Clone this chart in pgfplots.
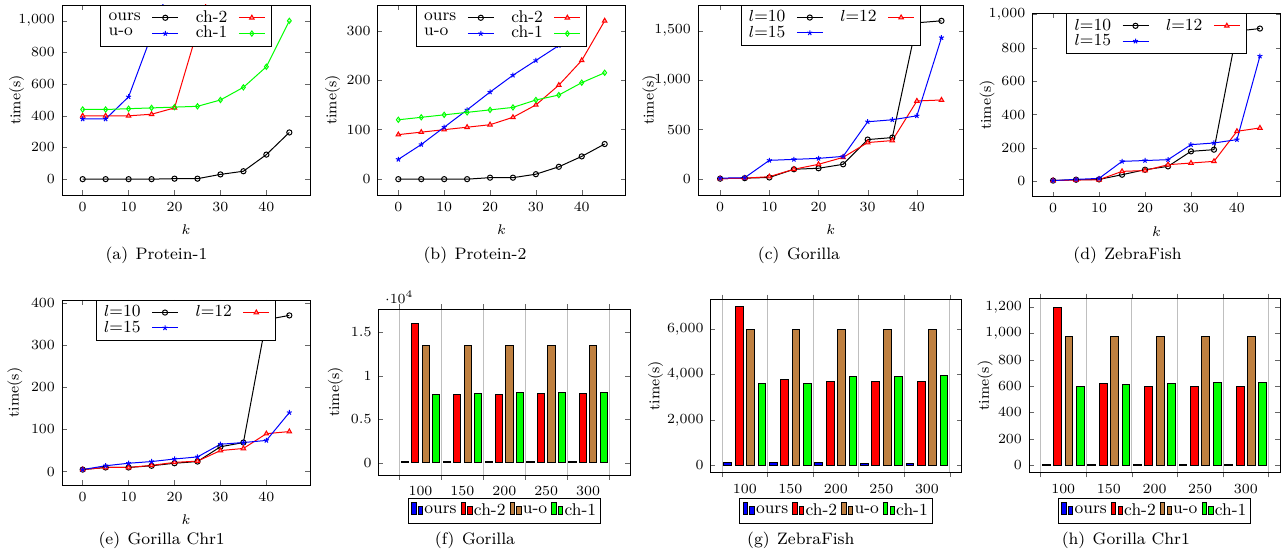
\documentclass[border=0pt]{standalone}
\usepackage{pgfplots}
\pgfplotsset{compat=1.18}

\pgfplotsset{
  base/.style={scale only axis, anchor=south west,
    tick style={black!60}, major tick length=2.3pt,
    tick label style={font=\fontsize{7}{8}\selectfont},
    label style={font=\fontsize{7.5}{9}\selectfont},
    ylabel={time(s)},
    every axis plot/.append style={mark size=1.3pt, line width=0.5pt}},
  kplot/.style={base, xmin=-4.5, xmax=49.5, xtick={0,10,20,30,40}, xlabel={$k$},
    legend plot pos=right, legend cell align=left,
    legend style={at={(0.5,1)}, anchor=north, legend columns=2,
      font=\fontsize{8.5}{9}\selectfont, inner xsep=3pt, inner ysep=1.5pt,
      row sep=-1.5pt, nodes={inner sep=1pt},
      /tikz/every odd column/.append style={column sep=4.5pt},
      /tikz/every even column/.append style={column sep=7.5pt}},
    legend image code/.code={\draw[mark repeat=2,mark phase=2,##1]
      plot coordinates {(0pt,0pt) (6.5pt,0pt) (13pt,0pt)};}},
  barplot/.style={base, bar width=8.6,
    xtick={75,125,...,325}, x tick label as interval,
    xticklabels={100,150,200,250,300},
    xmajorgrids, major grid style={black!25}, xtick align=outside,
    legend style={anchor=north, legend columns=4,
      font=\fontsize{8.5}{9}\selectfont, inner xsep=1.5pt, inner ysep=1.5pt,
      nodes={inner sep=0.6pt},
      /tikz/every even column/.append style={column sep=1.5pt}}},
  % thin two-bar legend image; given after ybar=... so it wins
  blegend/.style={legend image code/.code={
      \draw[##1] (0pt,-1.6pt) rectangle (2.2pt,4.6pt);
      \draw[##1] (3.3pt,-1.6pt) rectangle (5.5pt,2.6pt);}},
  s ours/.style={black, mark=o},
  s uo/.style={blue, mark=star},
  s ch2/.style={red, mark=triangle*, mark options={fill=red!35}},
  s ch1/.style={green, mark=diamond},
  b ours/.style={fill=blue, draw=black},
  b ch2/.style={fill=red, draw=black},
  b uo/.style={fill=brown, draw=black},
  b ch1/.style={fill=green, draw=black},
}

\begin{document}
\begin{tikzpicture}
\path[use as bounding box] (0,0) rectangle (641.5pt,280pt);

% (a) Protein-1
\begin{axis}[kplot, at={(31pt,182.5pt)}, width=124pt, height=95pt,
  ymin=-100, ymax=1100, ytick={0,200,...,1000},
  ylabel style={at={(axis description cs:-0.183,0.5)}, anchor=center}]
\addplot[s ours] coordinates {(0,0)(5,0)(10,0)(15,0)(20,3)(25,3)(30,30)(35,50)(40,155)(45,295)};
\addlegendentry{ours}
\addplot[s ch2] coordinates {(0,400)(5,400)(10,400)(15,410)(20,450)(25,940)(30,1400)};
\addlegendentry{ch-2}
\addplot[s uo] coordinates {(0,380)(5,380)(10,520)(15,910)(20,1300)};
\addlegendentry{u-o}
\addplot[s ch1] coordinates {(0,440)(5,440)(10,445)(15,450)(20,455)(25,460)(30,500)(35,580)(40,710)(45,1000)};
\addlegendentry{ch-1}
\end{axis}

% (b) Protein-2
\begin{axis}[kplot, at={(188.85pt,182.5pt)}, width=123.8pt, height=95pt,
  ymin=-32, ymax=352, ytick={0,100,200,300},
  ylabel style={at={(axis description cs:-0.182,0.5)}, anchor=center}]
\addplot[s ours] coordinates {(0,0)(5,0)(10,0)(15,0)(20,3)(25,3)(30,10)(35,25)(40,46)(45,71)};
\addlegendentry{ours}
\addplot[s ch2] coordinates {(0,90)(5,95)(10,100)(15,105)(20,110)(25,125)(30,150)(35,190)(40,240)(45,320)};
\addlegendentry{ch-2}
\addplot[s uo] coordinates {(0,40)(5,70)(10,105)(15,140)(20,176)(25,210)(30,240)(35,270)(40,300)};
\addlegendentry{u-o}
\addplot[s ch1] coordinates {(0,120)(5,125)(10,130)(15,135)(20,140)(25,145)(30,160)(35,170)(40,195)(45,215)};
\addlegendentry{ch-1}
\end{axis}

% (c) Gorilla
\begin{axis}[kplot, at={(349pt,182.5pt)}, width=132.8pt, height=95pt,
  ymin=-160, ymax=1760, ytick={0,500,1000,1500},
  ylabel style={at={(axis description cs:-0.181,0.5)}, anchor=center}]
\addplot[s ours] coordinates {(0,5)(5,10)(10,17)(15,100)(20,110)(25,150)(30,400)(35,420)(40,1580)(45,1600)};
\addlegendentry{$l$=10}
\addplot[s ch2] coordinates {(0,5)(5,10)(10,25)(15,100)(20,150)(25,220)(30,370)(35,390)(40,790)(45,800)};
\addlegendentry{$l$=12}
\addplot[s uo] coordinates {(0,10)(5,15)(10,190)(15,200)(20,210)(25,230)(30,580)(35,600)(40,640)(45,1430)};
\addlegendentry{$l$=15}
\end{axis}

% (d) ZebraFish
\begin{axis}[kplot, at={(516.2pt,181.65pt)}, width=124.1pt, height=91.7pt,
  ymin=-91.5, ymax=1006.5, ytick={0,200,...,1000},
  ylabel style={at={(axis description cs:-0.182,0.5)}, anchor=center}]
\addplot[s ours] coordinates {(0,5)(5,10)(10,12)(15,40)(20,70)(25,90)(30,180)(35,190)(40,900)(45,915)};
\addlegendentry{$l$=10}
\addplot[s ch2] coordinates {(0,5)(5,8)(10,10)(15,60)(20,65)(25,100)(30,110)(35,120)(40,300)(45,320)};
\addlegendentry{$l$=12}
\addplot[s uo] coordinates {(0,5)(5,12)(10,18)(15,120)(20,125)(25,130)(30,220)(35,230)(40,250)(45,750)};
\addlegendentry{$l$=15}
\end{axis}

% (e) Gorilla Chr1
\begin{axis}[kplot, at={(31pt,37.5pt)}, width=124pt, height=92.5pt,
  ymin=-31.5, ymax=406.5, ytick={0,100,...,400},
  ylabel style={at={(axis description cs:-0.19,0.5)}, anchor=center}]
\addplot[s ours] coordinates {(0,5)(5,10)(10,10)(15,14)(20,20)(25,24)(30,59)(35,69)(40,360)(45,370)};
\addlegendentry{$l$=10}
\addplot[s ch2] coordinates {(0,5)(5,10)(10,10)(15,15)(20,22)(25,25)(30,50)(35,55)(40,90)(45,95)};
\addlegendentry{$l$=12}
\addplot[s uo] coordinates {(0,5)(5,14)(10,20)(15,24)(20,30)(25,35)(30,65)(35,69)(40,74)(45,140)};
\addlegendentry{$l$=15}
\end{axis}

% (f) Gorilla, bars
\begin{axis}[barplot, ybar=1.63pt, blegend, at={(189.3pt,42.5pt)}, width=125.7pt, height=83pt,
  xmin=50, xmax=350, ymin=-1400, ymax=17680,
  ytick={0,5000,10000,15000}, scaled y ticks=base 10:-4,
  legend style={at={(0.5,0)}, yshift=-11.65pt},
  ylabel style={at={(axis description cs:-0.172,0.5)}, anchor=center}]
\addplot[b ours] coordinates {(100,200)(150,200)(200,200)(250,200)(300,200)};
\addlegendentry{ours}
\addplot[b ch2] coordinates {(100,16000)(150,7900)(200,7900)(250,8000)(300,8000)};
\addlegendentry{ch-2}
\addplot[b uo] coordinates {(100,13500)(150,13500)(200,13500)(250,13500)(300,13500)};
\addlegendentry{u-o}
\addplot[b ch1] coordinates {(100,7900)(150,8000)(200,8100)(250,8100)(300,8100)};
\addlegendentry{ch-1}
\end{axis}

% (g) ZebraFish, bars
\begin{axis}[barplot, ybar=1.77pt, blegend, at={(355.35pt,43.85pt)}, width=125.2pt, height=86.5pt,
  xmin=62.5, xmax=337.5, ymin=-310, ymax=7320,
  ytick={0,2000,4000,6000},
  legend style={at={(0.5,0)}, yshift=-13pt},
  ylabel style={at={(axis description cs:-0.22,0.5)}, anchor=center}]
\addplot[b ours] coordinates {(100,100)(150,100)(200,100)(250,60)(300,60)};
\addlegendentry{ours}
\addplot[b ch2] coordinates {(100,7000)(150,3800)(200,3700)(250,3700)(300,3700)};
\addlegendentry{ch-2}
\addplot[b uo] coordinates {(100,6000)(150,6000)(200,6000)(250,6000)(300,6000)};
\addlegendentry{u-o}
\addplot[b ch1] coordinates {(100,3600)(150,3600)(200,3900)(250,3900)(300,3950)};
\addlegendentry{ch-1}
\end{axis}

% (h) Gorilla Chr1, bars
\begin{axis}[barplot, ybar=1.77pt, blegend, at={(514.5pt,43.65pt)}, width=125.5pt, height=87.2pt,
  xmin=62.5, xmax=337.5, ymin=-58, ymax=1268,
  ytick={0,200,...,1200},
  legend style={at={(0.5,0)}, yshift=-12.8pt},
  ylabel style={at={(axis description cs:-0.175,0.5)}, anchor=center}]
\addplot[b ours] coordinates {(100,5)(150,5)(200,5)(250,5)(300,5)};
\addlegendentry{ours}
\addplot[b ch2] coordinates {(100,1200)(150,620)(200,600)(250,600)(300,600)};
\addlegendentry{ch-2}
\addplot[b uo] coordinates {(100,980)(150,980)(200,980)(250,980)(300,980)};
\addlegendentry{u-o}
\addplot[b ch1] coordinates {(100,600)(150,610)(200,620)(250,630)(300,630)};
\addlegendentry{ch-1}
\end{axis}

% sub-captions
\begin{scope}[every node/.style={font=\fontsize{8.3}{10}\selectfont}]
\node at (78.25pt,152.5pt) {(a)\hspace{0.45em}Protein-1};
\node at (237.5pt,152.5pt) {(b)\hspace{0.45em}Protein-2};
\node at (399.5pt,152.5pt) {(c)\hspace{0.45em}Gorilla};
\node at (563.75pt,152.5pt) {(d)\hspace{0.45em}ZebraFish};
\node at (80.85pt,10pt) {(e)\hspace{0.45em}Gorilla Chr1};
\node at (237.5pt,10pt) {(f)\hspace{0.45em}Gorilla};
\node at (400.4pt,10pt) {(g)\hspace{0.45em}ZebraFish};
\node at (562.9pt,10pt) {(h)\hspace{0.45em}Gorilla Chr1};
\end{scope}
\end{tikzpicture}
\end{document}
